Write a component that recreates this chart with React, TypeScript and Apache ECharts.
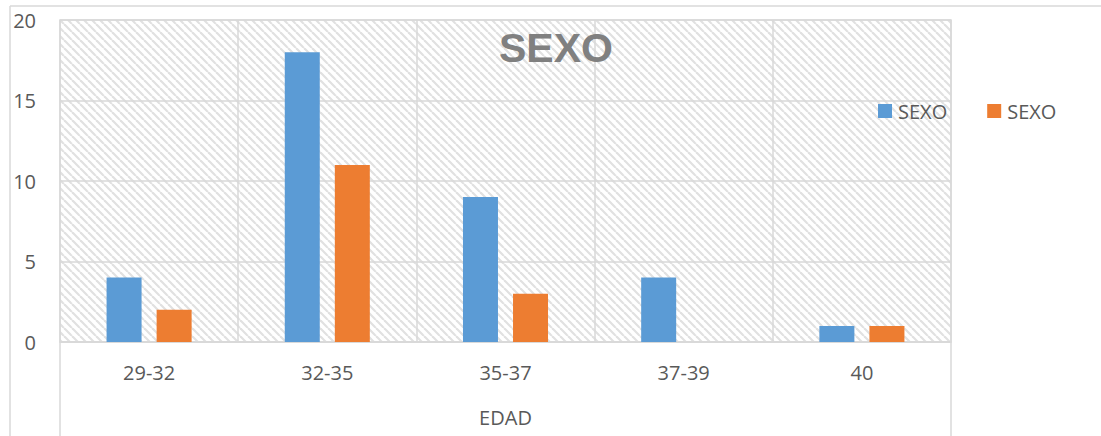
import React, { useEffect, useRef } from "react";
import * as echarts from "echarts";

const categories = ["29-32", "32-35", "35-37", "37-39", "40"];
const serieA = [4, 18, 9, 4, 1];
const serieB = [2, 11, 3, 0, 1];
const seriesNames = ["SEXO_1", "SEXO_2"];
const legendLabel = "SEXO";
const titleText = "SEXO";
const xName = "EDAD";

function makeHatch(): HTMLCanvasElement {
  const c = document.createElement("canvas");
  c.width = 8;
  c.height = 8;
  const ctx = c.getContext("2d")!;
  ctx.fillStyle = "#ffffff";
  ctx.fillRect(0, 0, 8, 8);
  ctx.strokeStyle = "#e1e1e1";
  ctx.lineWidth = 2.2;
  for (const x0 of [-8, 0, 8]) {
    ctx.beginPath();
    ctx.moveTo(x0, 0);
    ctx.lineTo(x0 + 8, 8);
    ctx.stroke();
  }
  return c;
}

export default function App() {
  const ref = useRef<HTMLDivElement>(null);
  useEffect(() => {
    if (!ref.current) return;
    const chart = echarts.init(ref.current, null, { renderer: "svg" });
    const hatch = makeHatch();
    const lineColor = "#d9d9d9";
    const textColor = "#595959";
    const font = "'Open Sans', 'Noto Sans', sans-serif";
    chart.setOption({
      animation: false,
      backgroundColor: "#ffffff",
      title: {
        text: titleText,
        left: 499,
        top: 27,
        padding: 0,
        textStyle: {
          fontFamily: "'Liberation Sans', Arial, sans-serif",
          fontWeight: "bold",
          fontSize: 41,
          color: "#808080",
        },
      },
      legend: {
        left: 878,
        top: 101,
        padding: 0,
        itemGap: 40,
        itemWidth: 14,
        itemHeight: 14,
        icon: "rect",
        data: seriesNames,
        formatter: () => legendLabel,
        textStyle: { fontFamily: font, fontSize: 20, color: textColor, padding: [0, 0, 0, 1] },
      },
      grid: {
        left: 60,
        right: 150,
        top: 20,
        bottom: 94,
        show: true,
        borderColor: lineColor,
        borderWidth: 1.5,
        backgroundColor: { image: hatch, repeat: "repeat", imageWidth: 8, imageHeight: 8 } as any,
      },
      xAxis: {
        type: "category",
        data: categories,
        name: xName,
        nameLocation: "middle",
        nameGap: 65,
        nameTextStyle: { fontFamily: font, fontSize: 20, color: textColor },
        axisLine: { show: true, lineStyle: { color: lineColor, width: 1.5 } },
        axisTick: { show: false },
        axisLabel: { fontFamily: font, fontSize: 20, color: textColor, margin: 20 },
        splitLine: { show: true, interval: 0, lineStyle: { color: lineColor, width: 1.5 } },
      },
      yAxis: {
        type: "value",
        min: 0,
        max: 20,
        interval: 5,
        axisLine: { show: false },
        axisTick: { show: false },
        axisLabel: { fontFamily: font, fontSize: 20, color: textColor, margin: 24 },
        splitLine: { show: true, lineStyle: { color: lineColor, width: 1.5 } },
      },
      series: [
        {
          name: seriesNames[0],
          type: "bar",
          data: serieA,
          barWidth: 35,
          barGap: "43%",
          itemStyle: { color: "#5B9BD5" },
        },
        {
          name: seriesNames[1],
          type: "bar",
          data: serieB,
          barWidth: 35,
          itemStyle: { color: "#ED7D31" },
        },
      ],
      graphic: [
        { type: "line", shape: { x1: 10, y1: 6, x2: 10, y2: 436 }, style: { stroke: lineColor, lineWidth: 1.5 } },
        { type: "line", shape: { x1: 10, y1: 6, x2: 1101, y2: 6 }, style: { stroke: lineColor, lineWidth: 1.5 } },
        { type: "line", shape: { x1: 60, y1: 342, x2: 60, y2: 436 }, style: { stroke: lineColor, lineWidth: 1.5 } },
        { type: "line", shape: { x1: 951, y1: 342, x2: 951, y2: 436 }, style: { stroke: lineColor, lineWidth: 1.5 } },
      ],
    });
    return () => chart.dispose();
  }, []);
  return (
    <div
      ref={ref}
      style={{ position: "fixed", left: 0, top: 0, width: 1101, height: 436 }}
    />
  );
}
